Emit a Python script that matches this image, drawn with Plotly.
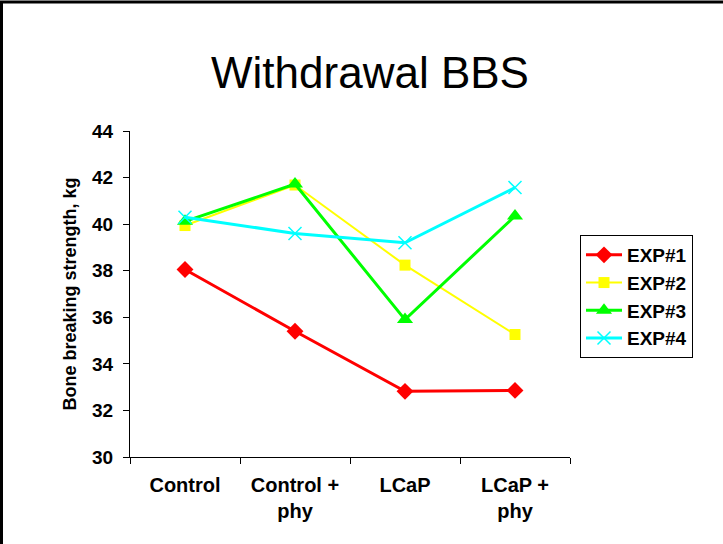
import plotly.graph_objects as go

categories = ["Control", "Control +<br>phy", "LCaP", "LCaP +<br>phy"]
exp1 = [38.05, 35.4, 32.82, 32.86]
exp2 = [39.94, 41.68, 38.24, 35.26]
exp3 = [40.12, 41.72, 35.9, 40.35]
exp4 = [40.3, 39.6, 39.2, 41.57]

FONT = "Liberation Sans, Arial, sans-serif"
W, H = 723, 544
ML, MR, MT, MB = 130, 153, 131, 87
PW, PH = W - ML - MR, H - MT - MB

fig = go.Figure()

series = [
    ("EXP#1", exp1, "#FF0000", 3, dict(symbol="diamond", size=13)),
    ("EXP#2", exp2, "#FFFF00", 2, dict(symbol="square", size=11)),
    ("EXP#3", exp3, "#00FF00", 3, dict(symbol="triangle-up", size=14)),
    ("EXP#4", exp4, "#00FFFF", 3, dict(symbol="x-thin", size=13,
                                        line=dict(width=1.5, color="#00FFFF"))),
]

for name, vals, color, lw, marker in series:
    fig.add_trace(
        go.Scatter(
            x=categories,
            y=vals,
            name=name,
            mode="lines+markers",
            line=dict(color=color, width=lw),
            marker=dict(color=color, **marker),
        )
    )

# Frame around the chart: only its top and left edges fall inside the picture
fig.add_shape(
    type="rect",
    xref="paper",
    yref="paper",
    x0=(1.5 - ML) / PW,
    x1=(W + 20 - ML) / PW,
    y0=(H - MB - (H + 20)) / PH,
    y1=(H - MB - 2) / PH,
    line=dict(color="black", width=3),
    layer="below",
)

fig.update_layout(
    width=W,
    height=H,
    margin=dict(l=ML, r=MR, t=MT, b=MB),
    paper_bgcolor="white",
    plot_bgcolor="white",
    font=dict(family=FONT, color="black"),
    title=dict(
        text="Withdrawal BBS",
        font=dict(size=44, family=FONT, color="black"),
        x=(370 - ML) / PW,
        xref="paper",
        xanchor="center",
        y=1 - 73 / H,
        yanchor="middle",
    ),
    xaxis=dict(
        type="category",
        range=[-0.5, 3.5],
        tickson="boundaries",
        ticks="outside",
        ticklen=6,
        tickcolor="black",
        showline=True,
        linecolor="black",
        linewidth=1,
        showgrid=False,
        tickfont=dict(size=20, family=FONT, weight="bold"),
        ticklabelstandoff=10,
    ),
    yaxis=dict(
        range=[30, 44],
        dtick=2,
        ticks="outside",
        ticklen=6,
        tickcolor="black",
        showline=True,
        linecolor="black",
        linewidth=1,
        showgrid=False,
        zeroline=False,
        tickfont=dict(size=19, family=FONT, weight="bold"),
        ticklabelstandoff=6,
        title=dict(
            text="Bone breaking strength, kg",
            font=dict(size=18, family=FONT, weight="bold"),
            standoff=10,
        ),
    ),
    legend=dict(
        x=(580 - ML) / PW,
        y=(H - MB - 235) / PH,
        xanchor="left",
        yanchor="top",
        bordercolor="black",
        borderwidth=1,
        font=dict(size=19, family=FONT, weight="bold"),
        tracegroupgap=0,
        itemwidth=36,
    ),
)

# the page body has a default 8px margin; remove it so the figure sits at 0,0
fig.write_html(
    "out.html",
    config={"displayModeBar": False},
    post_script="document.body.style.margin='0';",
)
